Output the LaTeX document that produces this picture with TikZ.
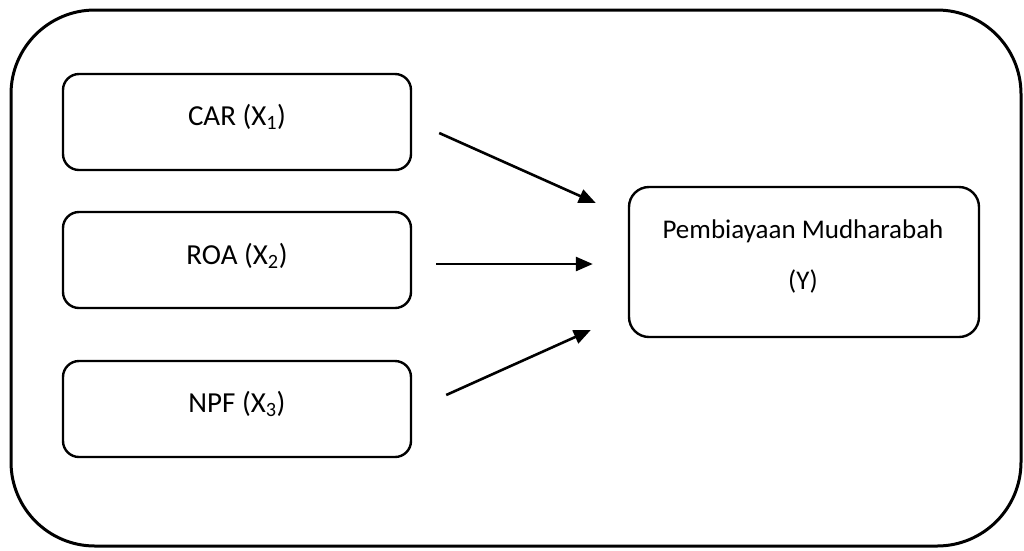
\documentclass[tikz,border=0pt]{standalone}
\usepackage{fontspec}
\setmainfont{Carlito}
\usetikzlibrary{arrows.meta,calc}
\begin{document}
\begin{tikzpicture}[x=1pt,y=-1pt,
  varbox/.style={draw,line width=2.4pt,rounded corners=16pt,minimum width=348pt,minimum height=96pt,inner sep=0pt},
  ybox/.style={draw,line width=2.4pt,rounded corners=20pt,minimum width=350pt,minimum height=150pt,inner sep=0pt},
  txt/.style={inner sep=0pt,font=\fontsize{27}{51}\selectfont,align=center},
  vtxt/.style={inner sep=0pt,font=\fontsize{29}{35}\selectfont},
  arr/.style={line width=2.6pt,-{Triangle[length=17pt,width=14pt]}}]
\useasboundingbox (0,0) rectangle (1024,550);
\draw[line width=3pt,rounded corners=84pt] (11,10) rectangle (1021,546);
\node[varbox] (car) at (237,122) {};
\node[varbox] (roa) at (237,260) {};
\node[varbox] (npf) at (237,409) {};
\node[ybox] (y) at (804,262) {};
\node[vtxt] (tcar) at (237,117) {CAR (X\textsubscript{1})};
\node[vtxt] (troa) at (237,256) {ROA (X\textsubscript{2})};
\node[vtxt] (tnpf) at (237,404) {NPF (X\textsubscript{3})};
\node[txt] (ty) at (803,256) {Pembiayaan Mudharabah\\(Y)};
\coordinate (a1s) at ($(car.east)+(27,11)$);
\coordinate (a1e) at ($(y.west)+(-32,-59)$);
\coordinate (a2s) at ($(roa.east)+(24,4)$);
\coordinate (a2e) at ($(y.west)+(-35,2)$);
\coordinate (a3s) at ($(npf.east)+(34,-14)$);
\coordinate (a3e) at ($(y.west)+(-37,68)$);
\draw[arr] (a1s) -- (a1e);
\draw[arr] (a2s) -- (a2e);
\draw[arr] (a3s) -- (a3e);
\end{tikzpicture}
\end{document}
